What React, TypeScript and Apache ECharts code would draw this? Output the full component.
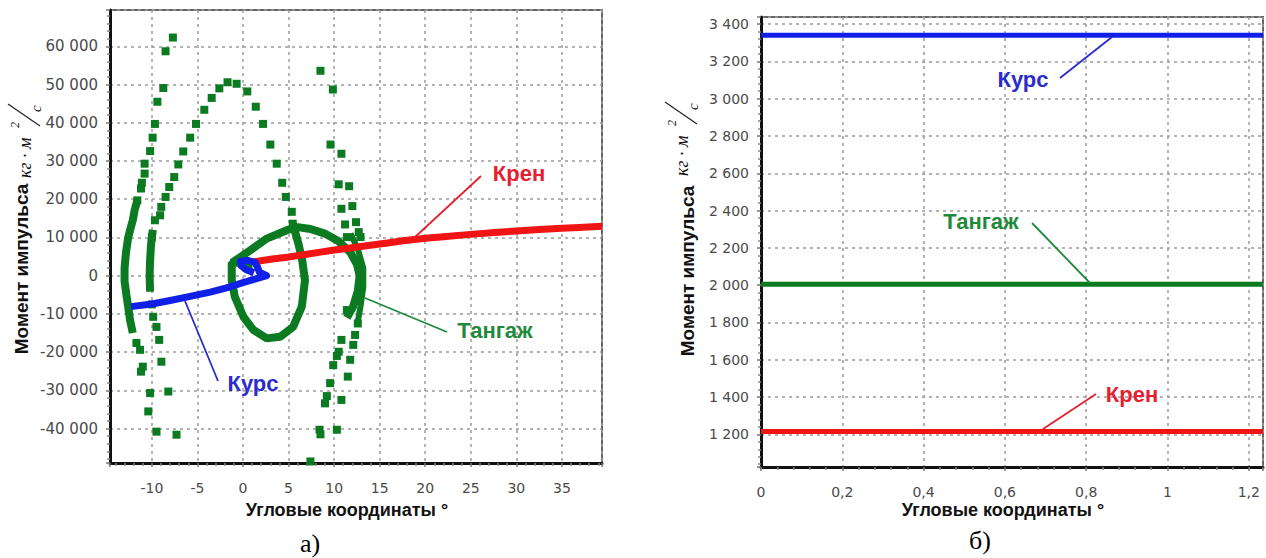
import React, { useEffect, useRef } from "react";
import * as echarts from "echarts";

// ---------- Panel а): angular momentum vs angle ----------
// Тангаж (pitch) – sparse dots and dense traces, [angle °, momentum]
const pitchOuterUpperDots = [[-7.7, 62300], [-8.5, 58700], [-8.75, 49100], [-9.4, 45500], [-9.67, 39700], [-9.92, 36100], [-10.2, 32600], [-10.8, 29300], [-10.8, 26700], [-11.1, 24300], [-11.2, 22800], [-11.6, 19700]];
const pitchOuterDense = [[-11.6, 19700], [-11.9, 17100], [-12.1, 14500], [-12.4, 11900], [-12.6, 10000], [-12.85, 6000], [-13.0, 2000], [-13.0, -1500], [-12.8, -5000], [-12.6, -8200], [-12.4, -11600], [-12.1, -15000]];
const pitchOuterLowerDots = [[-11.7, -17600], [-11.3, -19400], [-11.0, -23800], [-11.2, -25100], [-10.2, -30700], [-10.4, -35500], [-9.5, -40800]];
const pitchInnerUpperDots = [[-10.0, 10100], [-9.67, 14500], [-9.1, 15800], [-8.97, 18000], [-8.5, 20600], [-8.1, 23200], [-7.55, 25800], [-7.1, 29100], [-6.56, 32500], [-5.8, 36100], [-5.16, 39700], [-4.25, 43400], [-3.44, 46500], [-2.6, 49000], [-1.7, 50600], [-0.7, 50200], [0.47, 48200], [1.4, 44200], [2.2, 39700], [3.0, 34300], [3.7, 29300], [4.3, 24300], [4.7, 20600], [5.35, 16700], [5.46, 13600]];
const pitchInnerDense = [[-9.9, 12000], [-10.1, 8000], [-10.2, 4000], [-10.25, 0], [-10.2, -4200]];
const pitchInnerLowerDots = [[-10.0, -7500], [-9.86, -10750], [-9.5, -13400], [-9.2, -16800], [-8.96, -22500], [-8.2, -30300], [-7.3, -41600]];
const pitchLoop = [[5.46, 13600], [6.08, 8400], [6.5, 4000], [6.8, -1200], [6.45, -8100], [5.5, -13400], [4.07, -16000], [2.6, -16400], [1.13, -14200], [0.04, -10750], [-0.9, -5500], [-1.24, -1200], [-1.24, 3400], [0.6, 3400], [0.6, 1000]];
const pitchArc = [[-1.2, 3400], [-0.2, 5000], [0.8, 6650], [2.6, 9700], [4.8, 11900], [6.0, 12700], [7.4, 12200], [9.0, 11000], [10.5, 9000], [11.8, 6000], [12.5, 3000], [12.8, 0], [12.6, -4000], [12.1, -8000], [11.4, -11000]];
const pitchArcOuter = [[11.8, 11000], [12.6, 7000], [13.2, 2000], [13.2, -3000], [12.9, -8000], [12.6, -12000]];
const pitchRightUpperDots = [[8.5, 53600], [9.86, 48700], [9.6, 34300], [10.8, 31900], [10.5, 23900], [11.65, 23400], [10.8, 17500], [12.0, 18200], [11.2, 13400], [12.4, 14000], [12.7, 11400], [11.4, 10100], [12.9, 10100]];
const pitchRightLowerDots = [[11.4, -9000], [10.8, -16800], [10.5, -19900], [10.3, -21000], [9.9, -23400], [9.56, -28100], [9.2, -31500], [9.0, -33400], [8.4, -40300], [8.5, -41500], [7.4, -48600], [12.6, -12500], [12.3, -15500], [12.1, -18100], [11.76, -22000], [11.5, -26400], [10.8, -32500], [10.3, -40300]];
// Крен (roll)
const rollTrace = [[1.2, 3600], [3, 4300], [5, 4900], [7, 5600], [10, 6700], [12.5, 7500], [15, 8300], [18.5, 9400], [22, 10200], [26, 11000], [30, 11700], [35, 12400], [39.4, 12900]];
// Курс (yaw)
const yawTrace = [[-12.3, -8100], [-10, -7400], [-8, -6500], [-6.2, -5600], [-3.6, -4300], [-1.4, -2900], [0, -1800], [1.3, -900], [2.6, 0], [1.8, 900], [1.6, 2200], [1.3, 3500], [0.5, 4000], [-0.3, 3800], [-0.2, 2600], [0.4, 1500], [1.2, 800]];

// ---------- Panel б): constant levels ----------
const rightXRange = [0, 1.235];
const yawLevel = 3340;
const pitchLevel = 2005;
const rollLevel = 1215;

const GREEN = "#0b7a20";
const RED = "#f01414";
const BLUE = "#1020e6";
const LBL_GREEN = "#1f8a3c";
const LBL_RED = "#e52030";
const LBL_BLUE = "#2a2ccc";

const thousands = (v: number) => {
  const s = Math.abs(Math.round(v)).toString().replace(/\B(?=(\d{3})+(?!\d))/g, " ");
  return (v < 0 ? "-" : "") + s;
};

const gridLine = { show: true, lineStyle: { color: "#9c9c9c", type: [3, 4], width: 1.5 } };
const axisLine = { show: true, onZero: false, lineStyle: { color: "#111", width: 3 } };
const axisTick = { show: true, inside: false, length: 4, lineStyle: { color: "#777", width: 1.5 } };
const minorTick = { show: true, splitNumber: 5, length: 3, lineStyle: { color: "#888", width: 1.5 } };
const labelBase = { color: "#4a4a4a", fontFamily: "DejaVu Sans", fontSize: 14 };

function unitsGroup(x: number, y: number) {
  const f = '"Liberation Serif"';
  return {
    type: "group",
    x,
    y,
    rotation: Math.PI / 2,
    children: [
      { type: "text", x: 0, y: 0, style: { text: "кг · м", fill: "#111", font: `italic 18px ${f}`, textAlign: "left", textVerticalAlign: "middle" } },
      { type: "text", x: 50, y: -10, style: { text: "2", fill: "#111", font: `italic 12px ${f}`, textAlign: "left", textVerticalAlign: "middle" } },
      { type: "line", shape: { x1: 52, y1: 15, x2: 74, y2: -17 }, style: { stroke: "#222", lineWidth: 1.2 } },
      { type: "text", x: 66, y: 11, style: { text: "c", fill: "#111", font: `italic 15px ${f}`, textAlign: "left", textVerticalAlign: "middle" } },
    ],
  };
}

function label(text: string, x: number, y: number, color: string) {
  return { type: "text", x, y, z: 100, style: { text, fill: color, font: 'bold 22px "Liberation Sans"', textAlign: "center", textVerticalAlign: "middle" } };
}
function leader(x1: number, y1: number, x2: number, y2: number, color: string) {
  return { type: "line", z: 100, shape: { x1, y1, x2, y2 }, style: { stroke: color, lineWidth: 1.8 } };
}

export default function App() {
  const ref = useRef<HTMLDivElement>(null);
  useEffect(() => {
    if (!ref.current) return;
    const chart = echarts.init(ref.current, undefined, { renderer: "svg" });
    const dots = (data: number[][]) => ({ type: "scatter", xAxisIndex: 0, yAxisIndex: 0, data, symbol: "rect", symbolSize: 8, itemStyle: { color: GREEN, opacity: 1 }, z: 2 });
    const dense = (data: number[][], w = 8) => ({ type: "line", xAxisIndex: 0, yAxisIndex: 0, data, showSymbol: false, symbol: "none", lineStyle: { color: GREEN, width: w }, z: 2 });
    const level = (v: number, color: string) => ({
      type: "line",
      xAxisIndex: 1,
      yAxisIndex: 1,
      data: rightXRange.map((x) => [x, v]),
      symbol: "none",
      lineStyle: { color, width: 5 },
      z: 3,
    });

    chart.setOption({
      animation: false,
      backgroundColor: "#fff",
      grid: [
        { left: 110, top: 10, width: 492, height: 453, show: true, borderColor: "#666", borderWidth: 2, backgroundColor: "#fff" },
        { left: 761, top: 17, width: 502, height: 450, show: true, borderColor: "#666", borderWidth: 2, backgroundColor: "#fff" },
      ],
      xAxis: [
        {
          type: "value", gridIndex: 0, min: -14.6, max: 39.4, splitNumber: 11,
          axisLine, axisTick, minorTick, splitLine: gridLine,
          axisLabel: { ...labelBase, margin: 18, formatter: (v: number) => (Math.abs(v % 5) < 1e-9 ? String(v) : "") },
        },
        {
          type: "value", gridIndex: 1, min: rightXRange[0], max: rightXRange[1], interval: 0.2,
          axisLine, axisTick, minorTick, splitLine: gridLine,
          axisLabel: {
            ...labelBase, margin: 18,
            formatter: (v: number) => {
              const k = v / 0.2;
              if (Math.abs(k - Math.round(k)) > 1e-6) return "";
              return String(+v.toFixed(1)).replace(".", ",");
            },
          },
        },
      ],
      yAxis: [
        {
          type: "value", gridIndex: 0, min: -49000, max: 69500, splitNumber: 12,
          axisLine, axisTick, minorTick, splitLine: gridLine,
          axisLabel: { ...labelBase, fontSize: 15, margin: 12, formatter: (v: number) => (v % 10000 === 0 ? thousands(v) : "") },
        },
        {
          type: "value", gridIndex: 1, min: 1025, max: 3438, splitNumber: 12,
          axisLine, axisTick, minorTick, splitLine: gridLine,
          axisLabel: { ...labelBase, margin: 12, formatter: (v: number) => (v % 200 === 0 ? thousands(v) : "") },
        },
      ],
      series: [
        dense(pitchOuterDense),
        dense(pitchInnerDense),
        dense(pitchLoop),
        dense(pitchArc),
        dense(pitchArcOuter, 6),
        dots(pitchOuterUpperDots),
        dots(pitchOuterLowerDots),
        dots(pitchInnerUpperDots),
        dots(pitchInnerLowerDots),
        dots(pitchRightUpperDots),
        dots(pitchRightLowerDots),
        { type: "line", xAxisIndex: 0, yAxisIndex: 0, data: rollTrace, symbol: "none", smooth: 0.3, lineStyle: { color: RED, width: 7 }, z: 3 },
        { type: "line", xAxisIndex: 0, yAxisIndex: 0, data: yawTrace, symbol: "none", lineStyle: { color: BLUE, width: 7, join: "round" }, z: 4 },
        level(yawLevel, BLUE),
        level(pitchLevel, GREEN),
        level(rollLevel, RED),
      ],
      graphic: [
        // panel а) annotations
        label("Крен", 519, 173, LBL_RED),
        leader(481, 176, 414, 238, LBL_RED),
        label("Тангаж", 495, 330, LBL_GREEN),
        leader(447, 332, 365, 298, LBL_GREEN),
        label("Курс", 253, 383, LBL_BLUE),
        leader(218, 381, 185, 301, LBL_BLUE),
        // panel б) annotations
        label("Курс", 1023, 79, LBL_BLUE),
        leader(1060, 78, 1112, 37, LBL_BLUE),
        label("Тангаж", 981, 221, LBL_GREEN),
        leader(1032, 223, 1090, 283, LBL_GREEN),
        label("Крен", 1132, 394, LBL_RED),
        leader(1096, 394, 1043, 429, LBL_RED),
        // axis titles
        { type: "text", x: 21, y: 269, rotation: Math.PI / 2, style: { text: "Момент импульса", fill: "#111", font: 'bold 19px "Liberation Sans"', textAlign: "center", textVerticalAlign: "middle" } },
        { type: "text", x: 687, y: 271, rotation: Math.PI / 2, style: { text: "Момент импульса", fill: "#111", font: 'bold 19px "Liberation Sans"', textAlign: "center", textVerticalAlign: "middle" } },
        unitsGroup(25, 178),
        unitsGroup(682, 176),
        { type: "text", x: 347, y: 510, style: { text: "Угловые координаты °", fill: "#111", font: 'bold 18px "Liberation Sans"', textAlign: "center", textVerticalAlign: "middle" } },
        { type: "text", x: 1003, y: 510, style: { text: "Угловые координаты °", fill: "#111", font: 'bold 18px "Liberation Sans"', textAlign: "center", textVerticalAlign: "middle" } },
        { type: "text", x: 310, y: 543, style: { text: "а)", fill: "#000", font: '26px "Liberation Serif"', textAlign: "center", textVerticalAlign: "middle" } },
        { type: "text", x: 980, y: 540, style: { text: "б)", fill: "#000", font: '26px "Liberation Serif"', textAlign: "center", textVerticalAlign: "middle" } },
      ],
    });
    return () => chart.dispose();
  }, []);
  return <div ref={ref} style={{ position: "absolute", left: 0, top: 0, width: 1266, height: 558, background: "#fff" }} />;
}
